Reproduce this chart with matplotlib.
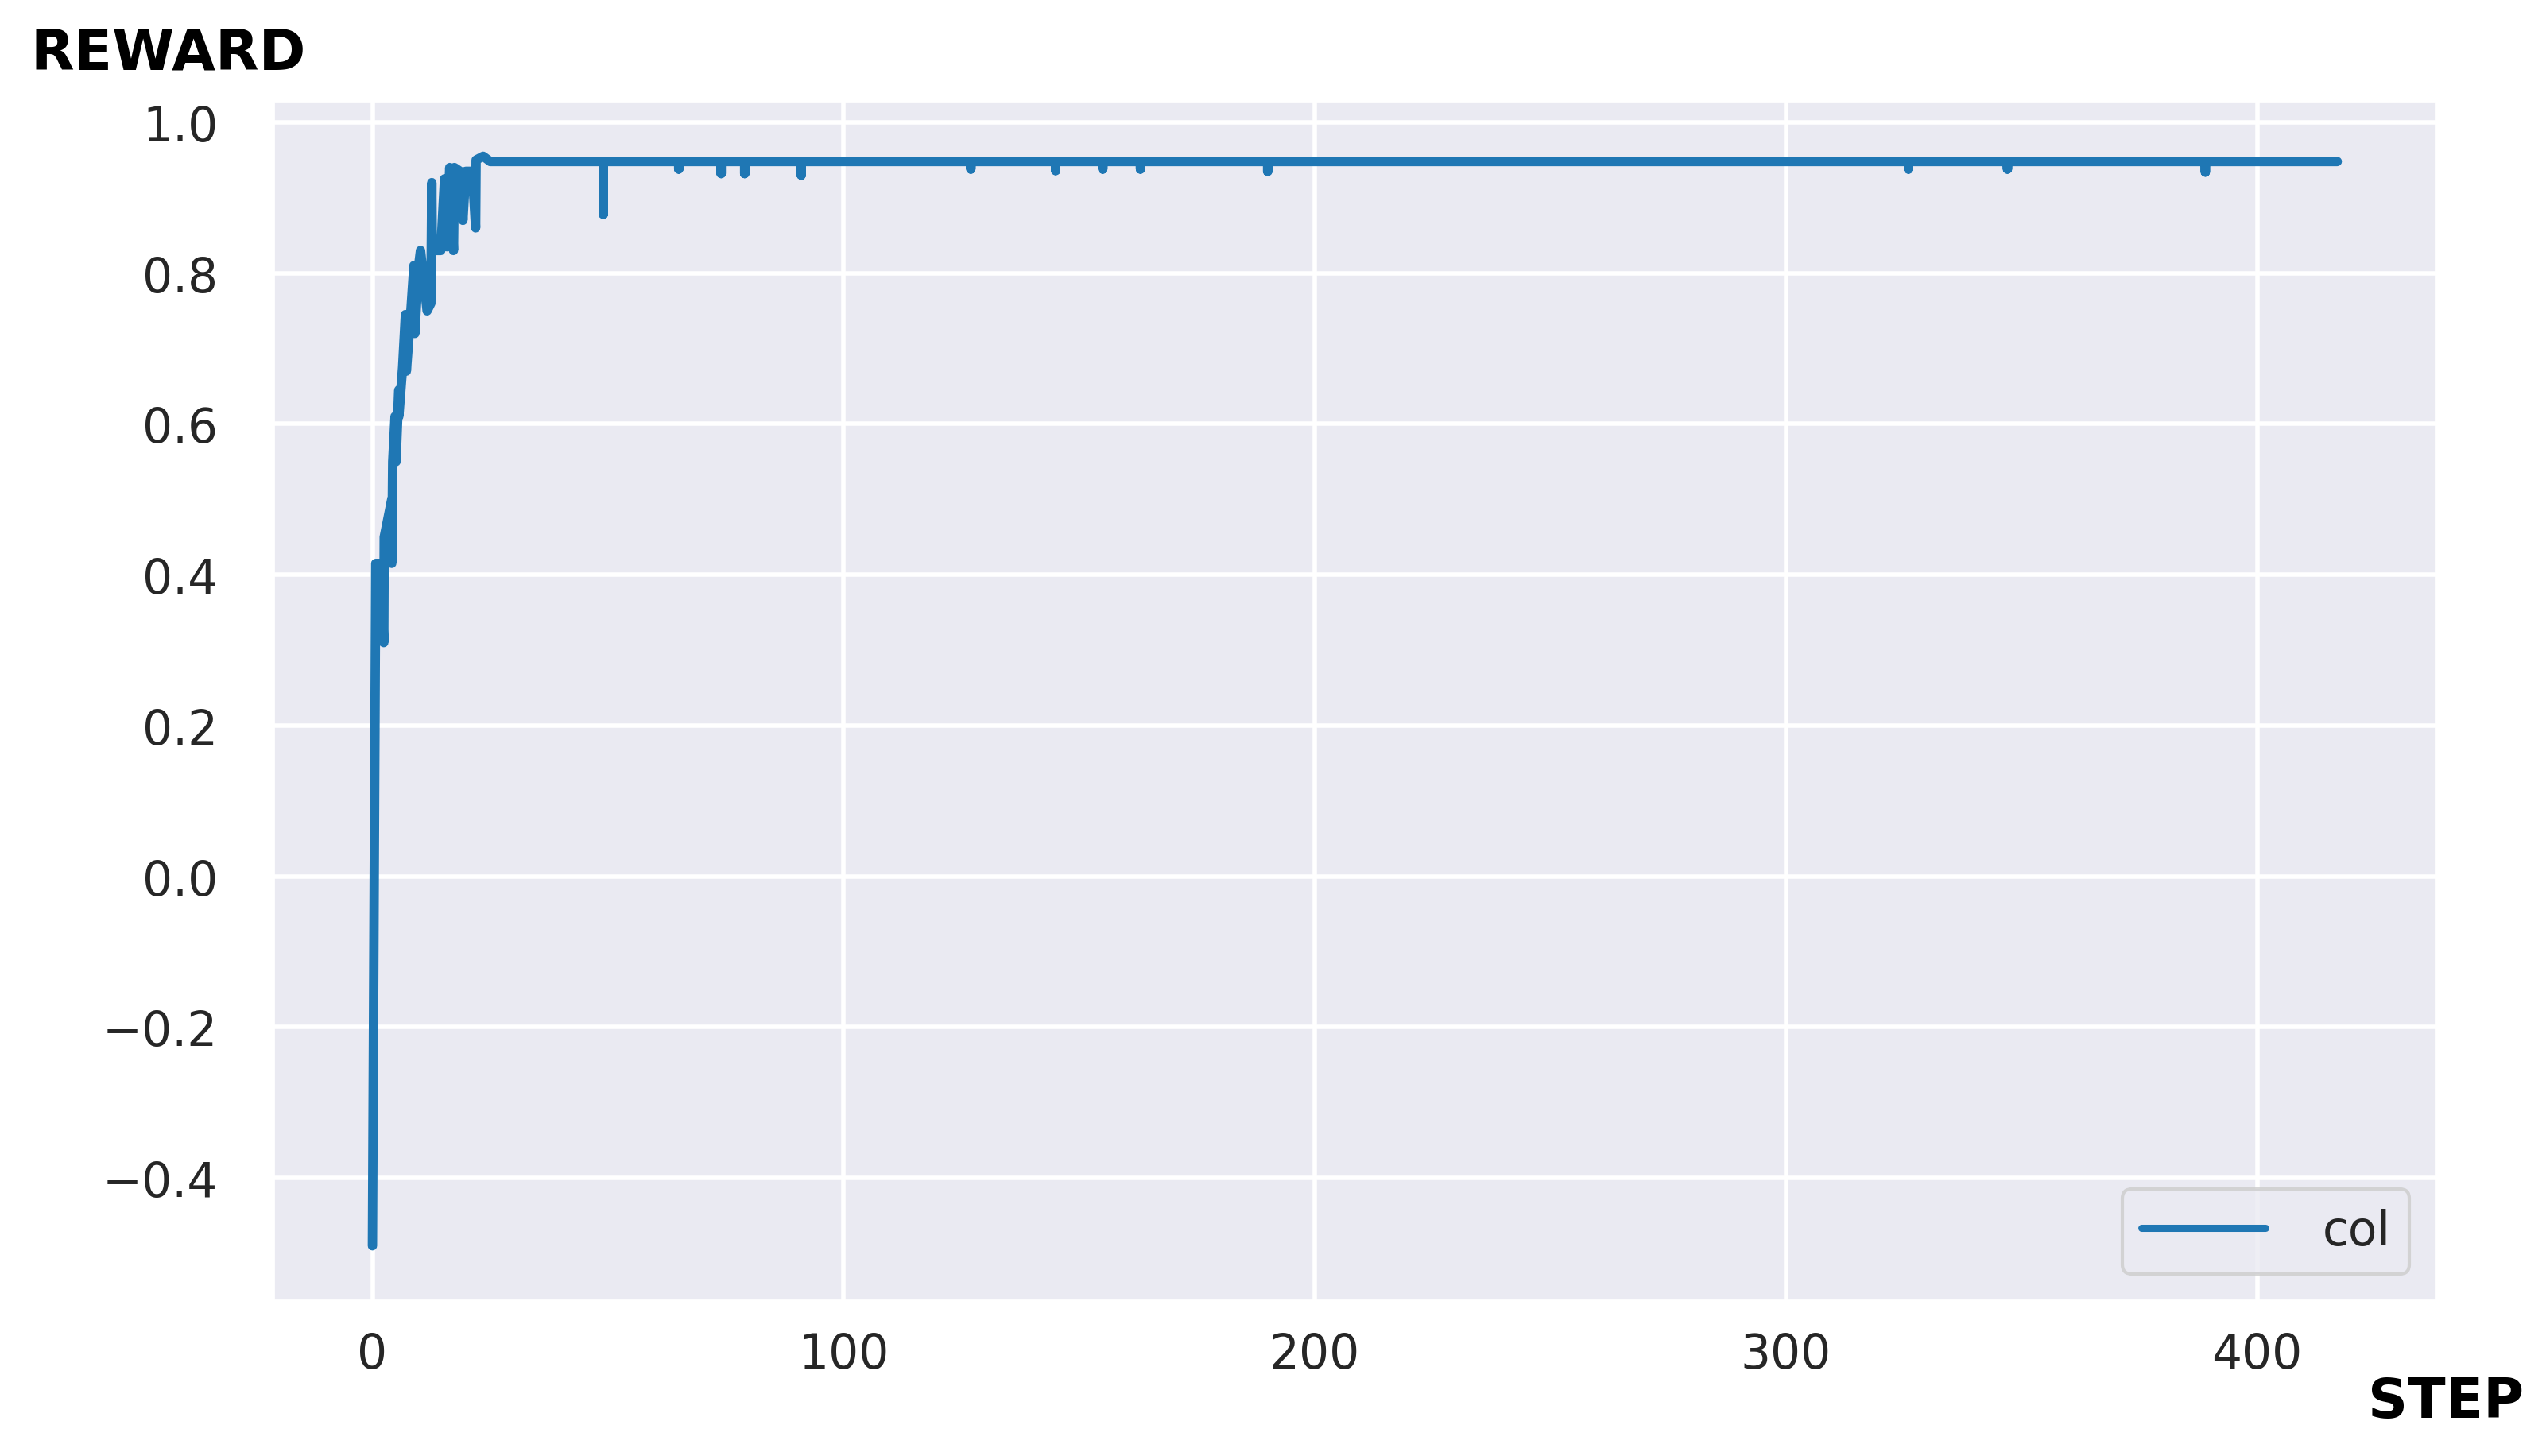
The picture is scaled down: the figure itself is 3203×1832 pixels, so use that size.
import matplotlib
matplotlib.use("Agg")
import matplotlib.pyplot as plt
import seaborn as sns
import pandas as pd

# readings taken off the chart
last_step = 417
plateau = 0.948
early_steps = [0.0, 0.7, 1.7, 2.4, 2.5, 4.1, 4.1, 4.3, 4.8, 5.0, 5.6, 5.6, 6.4,
               7.0, 7.2, 8.1, 8.8, 9.0, 9.8, 10.2, 11.6, 12.4, 12.6, 12.7, 14.5,
               15.3, 15.8, 16.4, 17.2, 17.4, 18.6, 19.2, 19.8, 21.2, 21.9, 22.0,
               23.5, 25.0]
early_values = [-0.49, 0.415, 0.415, 0.31, 0.45, 0.50, 0.415, 0.55, 0.61, 0.55,
                0.645, 0.61, 0.675, 0.745, 0.67, 0.745, 0.81, 0.72, 0.81, 0.83,
                0.75, 0.76, 0.92, 0.83, 0.83, 0.925, 0.835, 0.94, 0.83, 0.94,
                0.935, 0.87, 0.935, 0.935, 0.86, 0.95, 0.955, 0.948]
dip_steps = [49, 65, 74, 79, 91, 127, 145, 155, 163, 190, 326, 347, 389]
dip_values = [0.878, 0.938, 0.932, 0.932, 0.93, 0.938, 0.936, 0.938, 0.938, 0.935,
              0.938, 0.938, 0.934]

steps = list(early_steps)
reward = list(early_values)
for s, v in zip(dip_steps, dip_values):
    steps += [s, s, s]
    reward += [plateau, v, plateau]
steps.append(last_step)
reward.append(plateau)

df = pd.DataFrame({"step": steps, "col": reward})

sns.set_theme(style="darkgrid")
plt.rcParams['font.family'] = ['DejaVu Sans']

fig = plt.figure(figsize=(32.03, 18.33), dpi=100)
ax = fig.add_axes([0.1077, 0.1069, 0.8489, 0.8227])

ax.plot(df["step"], df["col"], color="#1f77b4", lw=8.5, label="col")

ax.set_yticks([-0.4, -0.2, 0.0, 0.2, 0.4, 0.6, 0.8, 1.0])
ax.set_xticks([0, 100, 200, 300, 400])
ax.grid(True, color="white", lw=4)
ax.tick_params(axis="y", labelsize=43, pad=45, labelcolor="#262626")
ax.tick_params(axis="x", labelsize=43, pad=22, labelcolor="#262626")

leg = ax.legend(loc="lower right", fontsize=43, handlelength=2.6,
                handletextpad=1.2, borderaxespad=0.55, framealpha=0.8)
leg.get_frame().set_linewidth(3)
leg.get_lines()[0].set_linewidth(6.5)

fig.text(0.0119, 0.952, "REWARD", fontsize=51, fontweight="bold", color="black")
fig.text(0.930, 0.0267, "STEP", fontsize=50, fontweight="bold", color="black")

fig.savefig("out.png", dpi=100)
